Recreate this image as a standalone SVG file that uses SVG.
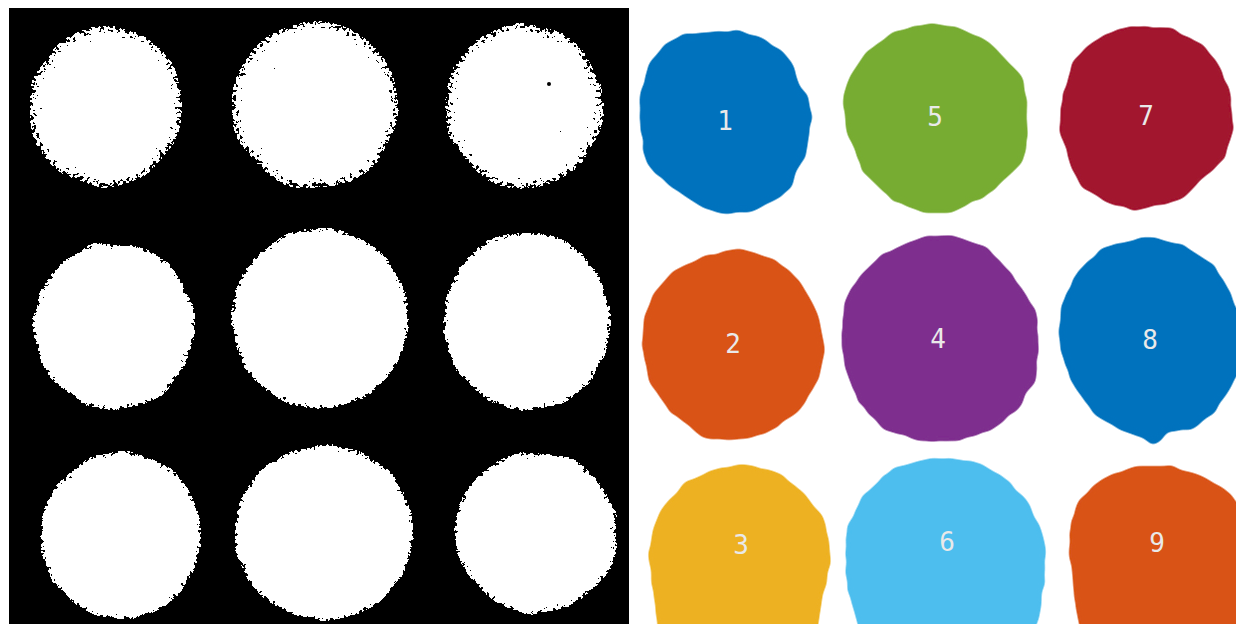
<svg xmlns="http://www.w3.org/2000/svg" width="1236" height="624" viewBox="0 0 1236 624">
  <style>
    .lbl { font-family: "DejaVu Sans Mono", "Liberation Mono", monospace; font-size: 26px; fill: #e9e9e9; text-anchor: middle; }
    .wb { fill: #ffffff; }
    .c-blue { fill: #0072BD; }
    .c-orange { fill: #D95319; }
    .c-yellow { fill: #EDB120; }
    .c-purple { fill: #7E2F8E; }
    .c-green { fill: #77AC30; }
    .c-lblue { fill: #4DBEEE; }
    .c-red { fill: #A2142F; }
  </style>
  <defs>
    <filter id="speckleWide" x="-25%" y="-25%" width="150%" height="150%">
      <feTurbulence type="fractalNoise" baseFrequency="0.04" numOctaves="2" seed="2" result="ln"/>
      <feDisplacementMap in="SourceAlpha" in2="ln" scale="10" xChannelSelector="R" yChannelSelector="G" result="d"/>
      <feGaussianBlur in="d" stdDeviation="8" result="b"/>
      <feTurbulence type="fractalNoise" baseFrequency="0.3" numOctaves="2" seed="7" result="n"/>
      <feColorMatrix in="n" type="matrix" values="0 0 0 0 0  0 0 0 0 0  0 0 0 0 0  1.8 0 0 0 0" result="na"/>
      <feComposite in="b" in2="na" operator="arithmetic" k1="0" k2="1" k3="0.75" k4="-0.66" result="c"/>
      <feComponentTransfer in="c" result="t"><feFuncA type="discrete" tableValues="0 1"/></feComponentTransfer>
      <feFlood flood-color="#ffffff" result="w"/>
      <feComposite in="w" in2="t" operator="in"/>
    </filter>
    <filter id="speckle" x="-25%" y="-25%" width="150%" height="150%">
      <feTurbulence type="fractalNoise" baseFrequency="0.05" numOctaves="2" seed="5" result="ln"/>
      <feDisplacementMap in="SourceAlpha" in2="ln" scale="8" xChannelSelector="R" yChannelSelector="G" result="d"/>
      <feGaussianBlur in="d" stdDeviation="4" result="b"/>
      <feTurbulence type="fractalNoise" baseFrequency="0.3" numOctaves="2" seed="11" result="n"/>
      <feColorMatrix in="n" type="matrix" values="0 0 0 0 0  0 0 0 0 0  0 0 0 0 0  1.8 0 0 0 0" result="na"/>
      <feComposite in="b" in2="na" operator="arithmetic" k1="0" k2="1" k3="0.6" k4="-0.54" result="c"/>
      <feComponentTransfer in="c" result="t"><feFuncA type="discrete" tableValues="0 1"/></feComponentTransfer>
      <feFlood flood-color="#ffffff" result="w"/>
      <feComposite in="w" in2="t" operator="in"/>
    </filter>
    <filter id="wobble" x="-10%" y="-10%" width="120%" height="120%">
      <feTurbulence type="fractalNoise" baseFrequency="0.09" numOctaves="1" seed="4" result="n"/>
      <feDisplacementMap in="SourceGraphic" in2="n" scale="4" xChannelSelector="R" yChannelSelector="G" result="d"/>
      <feGaussianBlur in="d" stdDeviation="3" result="b"/>
      <feComponentTransfer in="b"><feFuncA type="linear" slope="5" intercept="-2"/></feComponentTransfer>
    </filter>
  </defs>

  <rect width="1236" height="624" fill="#ffffff"/>

  <!-- Left panel: binary mask -->
  <g id="mask-panel">
    <rect x="9" y="8" width="620" height="616" fill="#000000"/>
    <g id="mask-r1" filter="url(#speckleWide)">
      <ellipse class="wb" cx="106" cy="106" rx="75" ry="79"/>
    </g>
    <g id="mask-r2" filter="url(#speckleWide)">
      <ellipse class="wb" cx="315" cy="105" rx="81" ry="82"/>
    </g>
    <g id="mask-r3" filter="url(#speckleWide)">
      <ellipse class="wb" cx="524" cy="106" rx="78" ry="81"/>
    </g>
    <g id="mask-r4" filter="url(#speckle)">
      <ellipse class="wb" cx="114" cy="326" rx="80" ry="83"/>
    </g>
    <g id="mask-r5" filter="url(#speckle)">
      <ellipse class="wb" cx="320" cy="319" rx="88" ry="90"/>
    </g>
    <g id="mask-r6" filter="url(#speckle)">
      <ellipse class="wb" cx="527" cy="321" rx="83" ry="89"/>
      <ellipse class="wb" cx="531" cy="404" rx="5" ry="7"/>
    </g>
    <g id="mask-r7" filter="url(#speckle)">
      <ellipse class="wb" cx="121" cy="535" rx="80" ry="83"/>
    </g>
    <g id="mask-r8" filter="url(#speckle)">
      <ellipse class="wb" cx="324" cy="533" rx="89" ry="87"/>
    </g>
    <g id="mask-r9" filter="url(#speckle)">
      <ellipse class="wb" cx="536" cy="532" rx="81" ry="80"/>
    </g>
    <circle cx="549" cy="84" r="2" fill="#000000"/>
  </g>

  <!-- Right panel: labelled regions -->
  <g id="region-1">
    <path class="c-blue" filter="url(#wobble)" d="M684,34 L738,30 L761,38 L781,50 L794,66 L798,84 L808,96 L812,119 L808,141 L806,157 L796,171 L792,187 L777,199 L754,211 L723,215 L703,207 L692,201 L672,187 L657,175 L645,161 L643,143 L638.5,119 L640,94 L649,64 L665,44 Z"/>
    <text class="lbl" x="725" y="129.5">1</text>
  </g>
  <g id="region-5">
    <path class="c-green" filter="url(#wobble)" d="M866,52 L893,32 L931,23 L959,28 L989,42 L1022,76 L1028,111 L1026,151 L1020,165 L988,195 L951,213 L924,213 L893,201 L862,171 L846,127 L843,96 L850,76 Z"/>
    <text class="lbl" x="935" y="125.5">5</text>
  </g>
  <g id="region-7">
    <path class="c-red" filter="url(#wobble)" d="M1074,60 L1094,40 L1129,25 L1171,28 L1202,44 L1218,64 L1231,96 L1233,131 L1225,159 L1202,179 L1183,199 L1160,205 L1133,211 L1105,201 L1082,187 L1071,167 L1059,127 L1063,96 Z"/>
    <text class="lbl" x="1146" y="124.5">7</text>
  </g>
  <g id="region-2">
    <path class="c-orange" filter="url(#wobble)" d="M653,294 L673,271 L707,255 L742,249 L773,259 L796,277 L808,294 L819,318 L825,350 L819,378 L800,410 L765,434 L734,440 L703,438 L669,410 L649,382 L642,346 L644,318 Z"/>
    <text class="lbl" x="733" y="352.5">2</text>
  </g>
  <g id="region-4">
    <path class="c-purple" filter="url(#wobble)" d="M858,279 L881,255 L920,237 L951,235 L986,247 L1013,275 L1036,310 L1039,346 L1036,378 L1020,406 L993,430 L959,441 L920,441 L885,430 L858,402 L845,370 L841,330 L846,298 Z"/>
    <text class="lbl" x="938" y="347.5">4</text>
  </g>
  <g id="region-8">
    <path class="c-blue" filter="url(#wobble)" d="M1078,271 L1105,247 L1148,237 L1183,245 L1214,265 L1229,290 L1240,318 L1246,360 L1233,382 L1214,414 L1190,430 L1167,432 L1162,440 L1152,446 L1142,438 L1121,430 L1094,414 L1071,382 L1059,346 L1061,306 Z"/>
    <text class="lbl" x="1150" y="348.5">8</text>
  </g>
  <g id="region-3">
    <path class="c-yellow" filter="url(#wobble)" d="M661,509 L688,481 L719,468 L746,464 L777,472 L804,493 L823,517 L829,541 L831,565 L823,593 L816,640 L659,640 L653,589 L649,553 L653,529 Z"/>
    <text class="lbl" x="741" y="553.5">3</text>
  </g>
  <g id="region-6">
    <path class="c-lblue" filter="url(#wobble)" d="M862,497 L893,468 L931,458 L970,460 L1001,474 L1024,497 L1040,525 L1046,549 L1044,585 L1034,640 L862,640 L848,589 L845,557 L848,525 Z"/>
    <text class="lbl" x="947" y="550.5">6</text>
  </g>
  <g id="region-9">
    <path class="c-orange" filter="url(#wobble)" d="M1078,501 L1102,478 L1136,466 L1171,466 L1202,476 L1225,489 L1240,505 L1250,520 L1250,640 L1082,640 L1073,593 L1069,549 L1071,521 Z"/>
    <text class="lbl" x="1157" y="551.5">9</text>
  </g>
</svg>
